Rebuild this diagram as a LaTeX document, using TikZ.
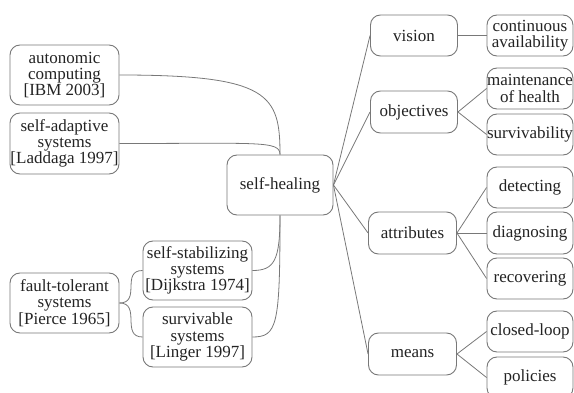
\documentclass[tikz,border=0pt]{standalone}
\usepackage{fontspec}
\setmainfont{Liberation Serif}
\definecolor{linegray}{RGB}{120,120,120}
\definecolor{textgray}{RGB}{35,35,35}
\begin{document}
\begin{tikzpicture}[x=1pt,y=-1pt,
  box/.style={draw=linegray, line width=0.9pt, rounded corners=10pt, fill=white,
    align=center, inner sep=0pt, text=textgray,
    font=\fontsize{17}{16.3}\selectfont},
  conn/.style={draw=linegray, line width=0.8pt}]
\useasboundingbox (0,0) rectangle (574,393);
% left side
\node[box, minimum width=109pt, minimum height=60pt] (auto) at (64.5,75) {autonomic\\computing\\{[IBM 2003]}};
\node[box, minimum width=109pt, minimum height=61pt] (adapt) at (64.5,143.5) {self-adaptive\\systems\\{[Laddaga 1997]}};
\node[box, minimum width=106pt, minimum height=60pt] (heal) at (280,185) {self-healing};
\node[box, minimum width=109pt, minimum height=60pt] (fault) at (64.5,303) {fault-tolerant\\systems\\{[Pierce 1965]}};
\node[box, minimum width=109pt, minimum height=59pt] (stab) at (197.5,270.5) {self-stabilizing\\systems\\{[Dijkstra 1974]}};
\node[box, minimum width=109pt, minimum height=60pt] (surv) at (197.5,337) {survivable\\systems\\{[Linger 1997]}};
% right side, middle column
\node[box, minimum width=87pt, minimum height=41pt] (vision) at (414,35.5) {vision};
\node[box, minimum width=87pt, minimum height=42pt] (obj) at (414,112) {objectives};
\node[box, minimum width=88pt, minimum height=42pt] (attr) at (412.5,233) {attributes};
\node[box, minimum width=88pt, minimum height=42pt] (means) at (412.5,354) {means};
% right column
\node[box, minimum width=86pt, minimum height=41pt] (cont) at (530,35.5) {continuous\\availability};
\node[box, minimum width=86pt, minimum height=41pt] (maint) at (530,88.5) {maintenance\\of health};
\node[box, minimum width=86pt, minimum height=41pt] (survi) at (530,134.5) {survivability};
\node[box, minimum width=86pt, minimum height=41pt] (detect) at (530,187.5) {detecting};
\node[box, minimum width=86pt, minimum height=42pt] (diag) at (530,233) {diagnosing};
\node[box, minimum width=86pt, minimum height=41pt] (recov) at (530,278.5) {recovering};
\node[box, minimum width=86pt, minimum height=41pt] (closed) at (530,331.5) {closed-loop};
\node[box, minimum width=86pt, minimum height=41pt] (pol) at (530,377.5) {policies};
% connectors left
\draw[conn] (auto.east) .. controls +(150,0) and +(0,-60) .. (heal.north);
\draw[conn] (adapt.east) .. controls +(140,0) and +(0,-14) .. (heal.north);
\draw[conn] (heal.south) .. controls +(0,45) and +(22,0) .. (stab.east);
\draw[conn] (heal.south) .. controls +(0,110) and +(25,0) .. (surv.east);
\draw[conn] (fault.east) .. controls +(22,0) and +(-22,0) .. (stab.west);
\draw[conn] (fault.east) .. controls +(22,0) and +(-22,0) .. (surv.west);
% connectors right
\draw[conn] (heal.east) -- (vision.west);
\draw[conn] (heal.east) -- (obj.west);
\draw[conn] (heal.east) -- (attr.west);
\draw[conn] (heal.east) -- (means.west);
\draw[conn] (vision.east) -- (cont.west);
\draw[conn] (obj.east) -- (maint.west);
\draw[conn] (obj.east) -- (survi.west);
\draw[conn] (attr.east) -- (detect.west);
\draw[conn] (attr.east) -- (diag.west);
\draw[conn] (attr.east) -- (recov.west);
\draw[conn] (means.east) -- (closed.west);
\draw[conn] (means.east) -- (pol.west);
\end{tikzpicture}
\end{document}
